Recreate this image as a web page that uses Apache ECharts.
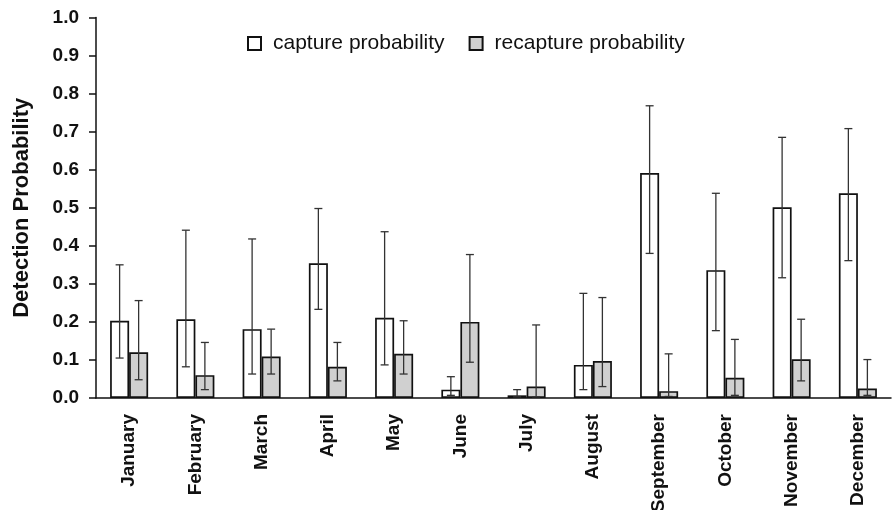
<!DOCTYPE html>
<html>
<head>
<meta charset="utf-8">
<script src="https://cdn.jsdelivr.net/npm/echarts@6/dist/echarts.min.js"></script>
<style>
  html, body { margin: 0; padding: 0; background: #fff; }
  #chart { width: 894px; height: 510px; }
</style>
</head>
<body>
<div id="chart"></div>
<script>
var months = ['January', 'February', 'March', 'April', 'May', 'June', 'July',
  'August', 'September', 'October', 'November', 'December'];

// capture probability with lower / upper error limits
var capture = [0.203, 0.207, 0.181, 0.354, 0.211, 0.022, 0.007, 0.087, 0.591, 0.336, 0.501, 0.538];
var captureLow = [0.105, 0.082, 0.063, 0.233, 0.087, 0.007, 0.003, 0.022, 0.380, 0.177, 0.316, 0.361];
var captureHigh = [0.350, 0.441, 0.418, 0.498, 0.437, 0.056, 0.022, 0.275, 0.768, 0.538, 0.685, 0.708];

// recapture probability with lower / upper error limits
var recapture = [0.120, 0.060, 0.109, 0.082, 0.116, 0.200, 0.030, 0.097, 0.018, 0.053, 0.102, 0.025];
var recaptureLow = [0.048, 0.022, 0.063, 0.045, 0.063, 0.094, 0.003, 0.030, 0.004, 0.007, 0.045, 0.007];
var recaptureHigh = [0.256, 0.146, 0.181, 0.146, 0.203, 0.377, 0.192, 0.264, 0.116, 0.154, 0.207, 0.101];

var BAR_PCT = 0.287;
var font = '"Liberation Sans", Arial, sans-serif';

function errorData(low, high) {
  return low.map(function (v, i) { return [i, v, high[i]]; });
}

function errorBar(side) {
  return function (params, api) {
    var band = api.size([1, 0])[0];
    var off = side * band * BAR_PCT / 2;
    var hi = api.coord([api.value(0), api.value(2)]);
    var lo = api.coord([api.value(0), api.value(1)]);
    var x = hi[0] + off;
    var cap = 4;
    var style = { stroke: '#333', lineWidth: 1.3 };
    return {
      type: 'group',
      children: [
        { type: 'line', shape: { x1: x, y1: hi[1], x2: x, y2: lo[1] }, style: style },
        { type: 'line', shape: { x1: x - cap, y1: hi[1], x2: x + cap, y2: hi[1] }, style: style },
        { type: 'line', shape: { x1: x - cap, y1: lo[1], x2: x + cap, y2: lo[1] }, style: style }
      ]
    };
  };
}

var chart = echarts.init(document.getElementById('chart'));

chart.setOption({
  animation: false,
  textStyle: { fontFamily: font },
  grid: { left: 96, right: 3, top: 17.5, bottom: 112, containLabel: false, outerBoundsMode: 'none' },
  legend: {
    data: ['capture probability', 'recapture probability'],
    icon: 'rect',
    left: 242,
    top: 28,
    itemWidth: 13,
    itemHeight: 13,
    itemGap: 24,
    textStyle: { fontSize: 21, color: '#111', fontFamily: font, padding: [0, 0, 0, 7] }
  },
  xAxis: {
    type: 'category',
    data: months,
    axisLine: { lineStyle: { color: '#111', width: 1.5 } },
    axisTick: { interval: 0, length: 8, lineStyle: { color: '#111', width: 1.5 } },
    axisLabel: {
      interval: 0,
      rotate: 90,
      margin: 16,
      fontSize: 19,
      fontWeight: 'bold',
      color: '#111',
      fontFamily: font
    }
  },
  yAxis: {
    type: 'value',
    min: 0,
    max: 1,
    interval: 0.1,
    name: 'Detection Probability',
    nameLocation: 'middle',
    nameGap: 63,
    nameTextStyle: { fontSize: 22, fontWeight: 'bold', color: '#111', fontFamily: font },
    splitLine: { show: false },
    axisLine: { show: true, lineStyle: { color: '#111', width: 1.5 } },
    axisTick: { show: true, length: 7, lineStyle: { color: '#111', width: 1.5 } },
    axisLabel: {
      margin: 17,
      fontSize: 19,
      fontWeight: 'bold',
      color: '#111',
      fontFamily: font,
      formatter: function (v) { return v.toFixed(1); }
    }
  },
  series: [
    {
      name: 'capture probability',
      type: 'bar',
      data: capture,
      barWidth: (BAR_PCT * 100) + '%',
      barGap: '0%',
      itemStyle: { color: '#fff', borderColor: '#111', borderWidth: 1.7 }
    },
    {
      name: 'recapture probability',
      type: 'bar',
      data: recapture,
      barWidth: (BAR_PCT * 100) + '%',
      barGap: '0%',
      itemStyle: { color: '#d0d0d0', borderColor: '#111', borderWidth: 1.7 }
    },
    {
      type: 'custom',
      renderItem: errorBar(-1),
      data: errorData(captureLow, captureHigh),
      encode: { x: 0, y: [1, 2] },
      z: 5
    },
    {
      type: 'custom',
      renderItem: errorBar(1),
      data: errorData(recaptureLow, recaptureHigh),
      encode: { x: 0, y: [1, 2] },
      z: 5
    }
  ]
});
</script>
</body>
</html>
